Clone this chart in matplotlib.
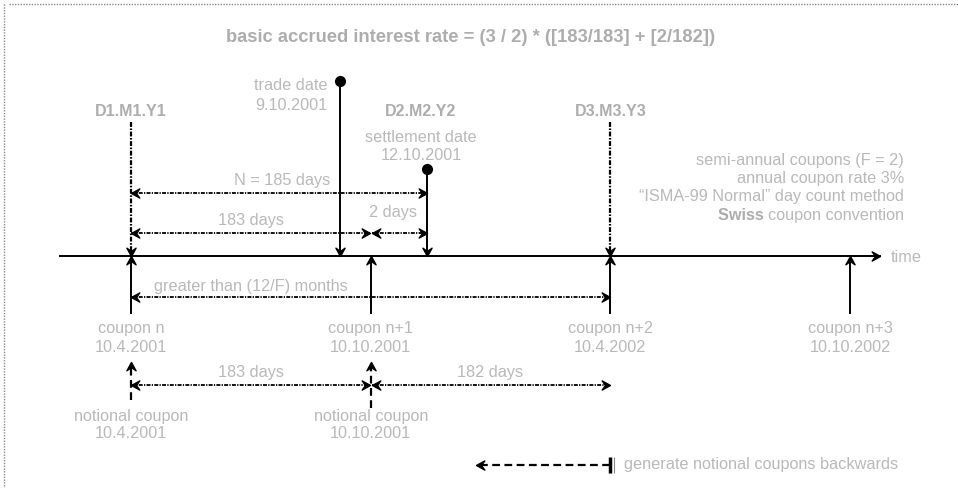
import matplotlib.pyplot as plt
from matplotlib.markers import MarkerStyle
from matplotlib.path import Path
from matplotlib.transforms import Affine2D

# timeline positions in coupon periods (coupon n = 0), diagram not to scale
coupon_pos = [0, 1, 2, 3]
coupon_names = ['coupon n', 'coupon n+1', 'coupon n+2', 'coupon n+3']
coupon_dates = ['10.4.2001', '10.10.2001', '10.4.2002', '10.10.2002']
notional_pos = [0, 1]
notional_dates = ['10.4.2001', '10.10.2001']
trade_pos, trade_date = 0.87, '9.10.2001'
settle_pos, settle_date = 1.235, '12.10.2001'
ref_labels = ['D1.M1.Y1', 'D2.M2.Y2', 'D3.M3.Y3']
ref_pos = [0, 1.235, 2]
n_days = 185
days_to_coupon = 183
days_after = 2
notional_days = [183, 182]
info_lines = ['semi-annual coupons (F = 2)', 'annual coupon rate 3%',
              '\u201cISMA-99 Normal\u201d day count method']

GREY = '#b9b9b9'
TGREY = '#adadad'
FS = 11.7
plt.rcParams['font.family'] = ['Liberation Sans', 'DejaVu Sans']

fig = plt.figure(figsize=(9.58, 4.88), dpi=100)
ax = fig.add_axes([0, 0, 1, 1])
ax.set_xlim(-131 / 239.7, (958 - 131) / 239.7)
ax.set_ylim(488, 0)
ax.axis('off')

# stealth style arrow head, tip at origin pointing right
head = Path([(0, 0), (-1, 0.55), (-0.6, 0), (-1, -0.55), (0, 0)],
            [Path.MOVETO, Path.LINETO, Path.LINETO, Path.LINETO, Path.CLOSEPOLY])


def arrow_head(x, y, angle):
    m = MarkerStyle(head, transform=Affine2D().rotate_deg(angle))
    ax.plot([x], [y], marker=m, ms=12, color='black', mec='black', lw=0)


DASHDOT = (0, (2.2, 0.7, 0.7, 0.7))
DASHED = (0, (3.5, 2))
LW = 1.4


def span(x0, x1, y, ls=DASHDOT):
    ax.plot([x0, x1], [y, y], color='black', lw=1.3, linestyle=ls)
    arrow_head(x0, y, 180)
    arrow_head(x1, y, 0)


def text(x, y, s, **kw):
    kw.setdefault('ha', 'center')
    kw.setdefault('color', GREY)
    kw.setdefault('fontsize', FS)
    return ax.text(x, y, s, va='center', **kw)


# frame
ax.plot([-0.51, 4], [4, 4], color='#8a8a8a', lw=1, linestyle=(0, (1, 1)))
ax.plot([-0.530, -0.530], [4, 490], color='#8a8a8a', lw=1, linestyle=(0, (1, 1)))

# title
text(1.418, 38, 'basic accrued interest rate = (3 / 2) * ([%d/%d] + [%d/%d])'
     % (days_to_coupon, days_to_coupon, days_after, notional_days[1]),
     fontsize=13.2, fontweight='bold', color=TGREY)

# time axis
x_start, x_end = -0.297, 3.125
ax.plot([x_start, x_end], [256, 256], color='black', lw=LW)
arrow_head(x_end, 256, 0)
text(x_end + 0.045, 257, 'time', ha='left')

# reference dates (D/M/Y)
for lab, p in zip(ref_labels, ref_pos):
    text(p - (0.025 if p == settle_pos else 0), 112, lab, fontweight='bold',
         color=TGREY, fontsize=11.5)
for p in [ref_pos[0], ref_pos[2]]:
    ax.plot([p, p], [122, 252], color='black', lw=1.6, linestyle=DASHDOT)
    arrow_head(p, 256, -90)

# trade and settlement dates
ax.plot([trade_pos, trade_pos], [81, 252], color='black', lw=LW)
ax.plot([trade_pos], [81], 'o', color='black', ms=7)
arrow_head(trade_pos, 256, -90)
text(trade_pos - 0.05, 86, 'trade date', ha='right')
text(trade_pos - 0.05, 105, trade_date, ha='right')

ax.plot([settle_pos, settle_pos], [169, 252], color='black', lw=LW)
ax.plot([settle_pos], [169], 'o', color='black', ms=7)
arrow_head(settle_pos, 256, -90)
text(settle_pos - 0.025, 138, 'settlement date')
text(settle_pos - 0.025, 156, settle_date)

# day count spans above axis
span(0, settle_pos, 193)
text(0.63, 181, 'N = %d days' % n_days)
span(0, 0.995, 233)
text(0.5, 220, '%d days' % days_to_coupon)
span(1.005, settle_pos, 233)
text(1.093, 213, '%d days' % days_after)

# info block
for i, s in enumerate(info_lines):
    text(3.225, 160 + i * 18.5, s, ha='right')
conv = text(3.225, 215.5, 'coupon convention', ha='right')
ax.annotate('Swiss ', xy=(0, 0.5), xycoords=conv, ha='right', va='center',
            color=TGREY, fontsize=FS, fontweight='bold')

# coupons
for p, name, d in zip(coupon_pos, coupon_names, coupon_dates):
    ax.plot([p, p], [313, 260], color='black', lw=LW)
    arrow_head(p, 256, 90)
    text(p, 329, name)
    text(p, 348, d)

span(0, 2, 297)
text(0.5, 286, 'greater than (12/F) months')

# notional coupons
for p, d, y0 in zip(notional_pos, notional_dates, [400, 408]):
    ax.plot([p, p], [y0, 366], color='black', lw=1.6, linestyle=DASHED)
    arrow_head(p, 362, 90)
    text(p, 416, 'notional coupon')
    text(p, 434, d)
span(0, 0.995, 385)
text(0.5, 373, '%d days' % notional_days[0])
span(1.005, 2, 385)
text(1.5, 373, '%d days' % notional_days[1])

# legend
ax.plot([2, 1.46], [465, 465], color='black', lw=1.6, linestyle=DASHED)
arrow_head(1.44, 465, 180)
ax.plot([2, 2], [457, 473], color='black', lw=2.5, solid_capstyle='butt')
ax.plot([2.014, 2.014], [457, 473], color='#888888', lw=0.8, solid_capstyle='butt')
text(2.055, 465, 'generate notional coupons backwards', ha='left')

fig.savefig('out.png', dpi=100)
